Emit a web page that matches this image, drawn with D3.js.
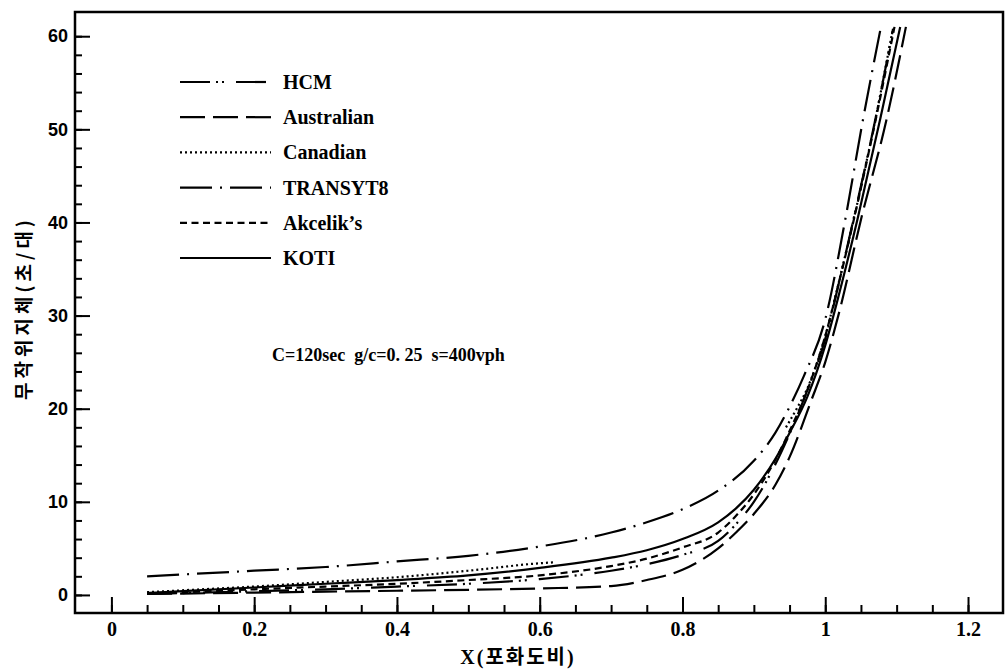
<!DOCTYPE html>
<html>
<head>
<meta charset="utf-8">
<script src="https://cdn.jsdelivr.net/npm/d3@7"></script>
<style>
  body { margin: 0; background: #fff; }
  svg { display: block; }
</style>
</head>
<body>
<svg id="chart" width="1008" height="669"></svg>
<script>
// ---- data: delay (sec/veh) against degree of saturation X ----
const seriesNames = ["HCM", "Australian", "Canadian", "TRANSYT8", "Akcelik’s", "KOTI"];

const hcm = [[0.05,0.1],[0.1,0.2],[0.2,0.4],[0.3,0.6],[0.4,0.9],[0.5,1.2],[0.6,1.7],[0.7,2.6],[0.75,3.3],[0.8,4.3],[0.85,5.8],[0.875,7.6],[0.9,10.0],[0.93,14.0],[0.95,17.3],[0.975,22.0],[1.0,27.5],[1.02,33.8],[1.04,40.5],[1.07,51.0],[1.095,60.8]];
const australian = [[0.05,0.1],[0.1,0.15],[0.2,0.25],[0.3,0.35],[0.4,0.45],[0.5,0.55],[0.6,0.7],[0.7,0.95],[0.75,1.6],[0.8,2.7],[0.85,5.0],[0.875,6.7],[0.9,8.7],[0.93,11.8],[0.95,14.8],[0.98,20.8],[1.0,25.0],[1.02,30.5],[1.05,40.3],[1.086,51.1],[1.113,61.0]];
const canadian = [[0.05,0.3],[0.1,0.5],[0.2,0.9],[0.3,1.4],[0.4,1.9],[0.5,2.6],[0.6,3.4],[0.62,3.5],[0.63,null],[0.93,null],[0.945,18.0],[0.96,20.0],[0.975,22.2],[1.0,27.8],[1.02,33.9],[1.04,40.4],[1.07,51.0],[1.094,60.5]];
const transyt8 = [[0.05,2.0],[0.1,2.2],[0.2,2.6],[0.3,3.0],[0.4,3.6],[0.5,4.2],[0.6,5.2],[0.7,6.7],[0.75,7.8],[0.8,9.2],[0.85,11.2],[0.9,14.4],[0.93,17.4],[0.95,20.2],[0.97,23.5],[1.0,29.6],[1.028,40.3],[1.053,51.1],[1.078,61.0]];
const akcelik = [[0.05,0.2],[0.1,0.3],[0.2,0.6],[0.3,0.9],[0.4,1.2],[0.5,1.6],[0.6,2.1],[0.7,3.1],[0.75,3.9],[0.8,5.1],[0.85,6.7],[0.875,8.5],[0.9,10.8],[0.93,14.5],[0.95,17.6],[0.975,22.0],[1.0,27.8],[1.02,33.8],[1.04,40.3],[1.07,50.8],[1.097,61.0]];
const koti = [[0.05,0.2],[0.1,0.4],[0.2,0.8],[0.3,1.2],[0.4,1.6],[0.5,2.1],[0.6,2.9],[0.7,4.0],[0.75,4.8],[0.8,6.0],[0.85,7.8],[0.875,9.3],[0.9,11.3],[0.93,14.6],[0.95,17.4],[0.975,21.3],[1.0,26.8],[1.02,32.5],[1.045,40.3],[1.077,51.1],[1.105,61.0]];

const seriesValues = [hcm, australian, canadian, transyt8, akcelik, koti];

const xTickValues = [0, 0.2, 0.4, 0.6, 0.8, 1, 1.2];
const xTickLabels = ["0", "0.2", "0.4", "0.6", "0.8", "1", "1.2"];
const yTickValues = [0, 10, 20, 30, 40, 50, 60];
const yTickLabels = ["0", "10", "20", "30", "40", "50", "60"];

const xTitle = "X(포화도비)";
const yTitle = "무작위지체(초/대)";
const note = "C=120sec  g/c=0. 25  s=400vph";

// ---- line styles per series ----
const dashes = {
  "HCM": "30 6 2 4 2 12",
  "Australian": "25 8",
  "Canadian": "2 3",
  "TRANSYT8": "32 8 2 8",
  "Akcelik’s": "7 4.5",
  "KOTI": null
};

// ---- layout ----
const svg = d3.select("#chart");
const frame = { left: 75, top: 12, right: 1003, bottom: 613 };

const x = d3.scaleLinear().domain([-0.051, 1.249]).range([frame.left, frame.right]);
const y = d3.scaleLinear().domain([-1.94, 62.6]).range([frame.bottom, frame.top]);

// plot frame
svg.append("rect")
  .attr("x", frame.left).attr("y", frame.top)
  .attr("width", frame.right - frame.left)
  .attr("height", frame.bottom - frame.top)
  .attr("fill", "none").attr("stroke", "#000").attr("stroke-width", 2.5);

// x axis: major ticks with labels, minor ticks every 0.05, all pointing inward
const xMinor = d3.range(0, 1.2001, 0.05);
svg.append("g")
  .attr("transform", `translate(0,${frame.bottom})`)
  .call(d3.axisBottom(x).tickValues(xMinor).tickSize(-8).tickFormat(""))
  .call(g => g.select(".domain").remove())
  .call(g => g.selectAll("line").attr("stroke-width", 2));

svg.append("g")
  .attr("transform", `translate(0,${frame.bottom})`)
  .call(d3.axisBottom(x).tickValues(xTickValues).tickSize(-16).tickPadding(9)
        .tickFormat((d, i) => xTickLabels[i]))
  .call(g => g.select(".domain").remove())
  .call(g => g.selectAll("line").attr("stroke-width", 2))
  .call(g => g.selectAll("text")
     .attr("font-family", "'Liberation Serif', serif")
     .attr("font-weight", "bold")
     .attr("font-size", 20)
     .attr("fill", "#000"));

// y axis: major ticks with labels, minor ticks every 2
const yMinor = d3.range(0, 60.001, 2);
svg.append("g")
  .attr("transform", `translate(${frame.left},0)`)
  .call(d3.axisLeft(y).tickValues(yMinor).tickSize(-7).tickFormat(""))
  .call(g => g.select(".domain").remove())
  .call(g => g.selectAll("line").attr("stroke-width", 2));

svg.append("g")
  .attr("transform", `translate(${frame.left},0)`)
  .call(d3.axisLeft(y).tickValues(yTickValues).tickSize(-15).tickPadding(7)
        .tickFormat((d, i) => yTickLabels[i]))
  .call(g => g.select(".domain").remove())
  .call(g => g.selectAll("line").attr("stroke-width", 2))
  .call(g => g.selectAll("text")
     .attr("font-family", "'Liberation Sans', Arial, sans-serif")
     .attr("font-weight", "bold")
     .attr("font-size", 18)
     .attr("fill", "#000"));

// axis titles
svg.append("text")
  .attr("x", 518).attr("y", 657)
  .attr("text-anchor", "middle").attr("dominant-baseline", "central")
  .attr("font-family", "'Liberation Serif', 'Noto Sans CJK KR', serif")
  .attr("font-weight", "bold").attr("font-size", 20)
  .attr("letter-spacing", 2)
  .text(xTitle);

svg.append("text")
  .attr("transform", "translate(22,308) rotate(-90)")
  .attr("text-anchor", "middle").attr("dominant-baseline", "central")
  .attr("font-family", "'Noto Sans CJK KR', sans-serif")
  .attr("font-weight", "bold").attr("font-size", 19)
  .attr("letter-spacing", 4)
  .text(yTitle);

// curves
const line = d3.line()
  .defined(d => d[1] != null)
  .x(d => x(d[0]))
  .y(d => y(d[1]))
  .curve(d3.curveMonotoneX);

svg.append("g").selectAll("path")
  .data(seriesValues)
  .join("path")
  .attr("d", line)
  .attr("fill", "none")
  .attr("stroke", "#000")
  .attr("stroke-width", 2.2)
  .attr("stroke-dasharray", (d, i) => dashes[seriesNames[i]]);

// legend
const legend = svg.append("g");
const legendRow = d3.scaleLinear().domain([0, 5]).range([82, 258]);
seriesNames.forEach((name, i) => {
  const ly = legendRow(i);
  legend.append("line")
    .attr("x1", 180).attr("x2", 271)
    .attr("y1", ly).attr("y2", ly)
    .attr("stroke", "#000").attr("stroke-width", 2.2)
    .attr("stroke-dasharray", dashes[name]);
  legend.append("text")
    .attr("x", 283).attr("y", ly)
    .attr("dominant-baseline", "central")
    .attr("font-family", "'Liberation Serif', serif")
    .attr("font-weight", "bold").attr("font-size", 20)
    .text(name);
});

// conditions note
svg.append("text")
  .attr("x", 272).attr("y", 355)
  .attr("dominant-baseline", "central")
  .attr("font-family", "'Liberation Serif', serif")
  .attr("font-weight", "bold").attr("font-size", 18)
  .style("white-space", "pre")
  .text(note);
</script>
</body>
</html>
